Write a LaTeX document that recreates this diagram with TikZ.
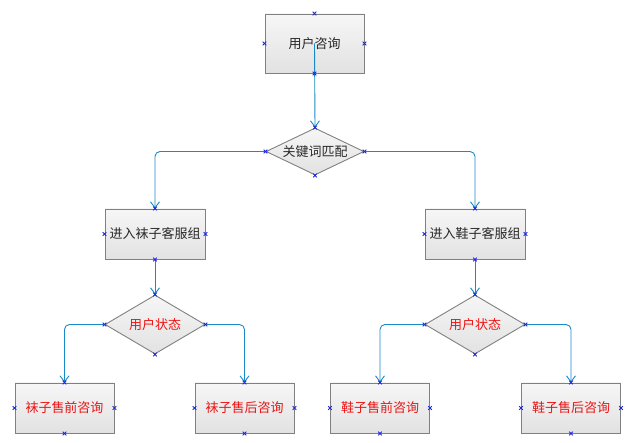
\documentclass[tikz,border=0pt]{standalone}
\usepackage{fontspec}
\setmainfont{Noto Sans CJK SC}
\usetikzlibrary{shapes.geometric,arrows.meta}
\definecolor{boxline}{RGB}{128,128,128}
\definecolor{fillTop}{RGB}{246,246,246}
\definecolor{fillBot}{RGB}{226,226,226}
\definecolor{darktext}{RGB}{40,40,40}
\definecolor{redtext}{RGB}{235,20,20}
\definecolor{conncol}{RGB}{24,138,200}
\definecolor{mkcol}{RGB}{30,40,220}
\begin{document}
\begin{tikzpicture}[x=1pt,y=-1pt,
  basebox/.style={draw=boxline, line width=0.9pt, top color=fillTop, bottom color=fillBot,
    inner sep=0pt, font=\fontsize{13}{15}\selectfont, text=darktext},
  topbox/.style={basebox, minimum width=99pt, minimum height=59pt},
  midbox/.style={basebox, minimum width=100pt, minimum height=50pt},
  leafbox/.style={basebox, minimum width=99pt, minimum height=50pt, text=redtext},
  bigdia/.style={basebox, diamond, aspect=2.1, minimum width=98pt, minimum height=47pt},
  smalldia/.style={basebox, diamond, aspect=1.7, minimum width=100pt, minimum height=59pt, text=redtext},
  conn/.style={draw=conncol, line width=0.9pt, rounded corners=5pt,
    -{Straight Barb[length=6pt,width=9pt,line width=0.9pt]}},
  mk/.style={draw=mkcol, line width=0.8pt}]
\useasboundingbox (0,0) rectangle (635,443);

\node[topbox] (top) at (314.5,43.5) {用户咨询};
\node[bigdia] (d1) at (315,151.5) {关键词匹配};
\node[midbox] (sock) at (155,234) {进入袜子客服组};
\node[midbox] (shoe) at (475,234) {进入鞋子客服组};
\node[smalldia] (d2) at (155,324.5) {用户状态};
\node[smalldia] (d3) at (475,324.5) {用户状态};
\node[leafbox] (l1) at (64.5,408) {袜子售前咨询};
\node[leafbox] (l2) at (244.5,408) {袜子售后咨询};
\node[leafbox] (l3) at (380,408) {鞋子售前咨询};
\node[leafbox] (l4) at (571,408) {鞋子售后咨询};

\draw[conn] (top.center) -- (d1.north);
\draw[conn] (d1.west) -| (sock.north);
\draw[conn] (d1.east) -| (shoe.north);
\draw[conn] (sock.south) -- (d2.north);
\draw[conn] (shoe.south) -- (d3.north);
\draw[conn] (d2.west) -| (l1.north);
\draw[conn] (d2.east) -| (l2.north);
\draw[conn] (d3.west) -| (l3.north);
\draw[conn] (d3.east) -| (l4.north);

\foreach \n in {top,d1,sock,shoe,d2,d3,l1,l2,l3,l4}{
  \foreach \a in {north,south,east,west}{
    \draw[mk] (\n.\a) +(-1.8,-1.8) -- +(1.8,1.8) +(-1.8,1.8) -- +(1.8,-1.8);
  }
}
\end{tikzpicture}
\end{document}
